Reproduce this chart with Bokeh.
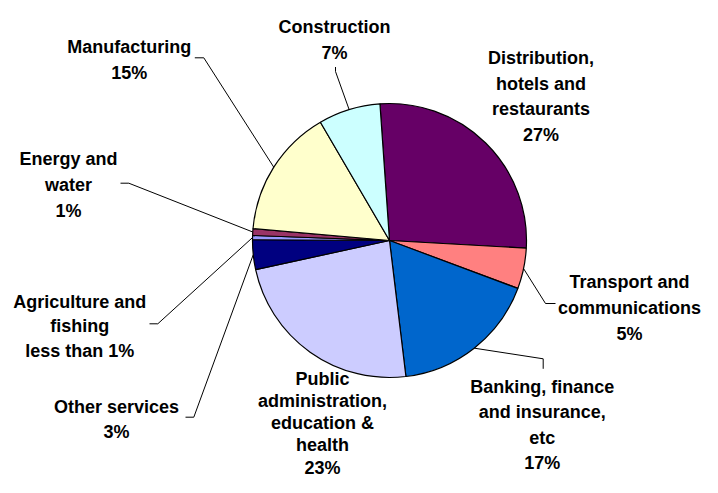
import math
from bokeh.plotting import figure
from bokeh.models import Range1d, ColumnDataSource
from bokeh.core.properties import value
from bokeh.embed import file_html
from bokeh.resources import INLINE

# ---------------- data (clockwise from the top of the pie) ----------------
sectors = [
    "Distribution, hotels and restaurants",
    "Transport and communications",
    "Banking, finance and insurance, etc",
    "Public administration, education & health",
    "Other services",
    "Agriculture and fishing",
    "Energy and water",
    "Manufacturing",
    "Construction",
]
shares = [27.0, 4.8, 17.4, 23.5, 3.5, 0.5, 0.8, 15.2, 7.3]
pct_labels = ["27%", "5%", "17%", "23%", "3%", "less than 1%", "1%", "15%", "7%"]
label_lines = [
    ["Distribution,", "hotels and", "restaurants"],
    ["Transport and", "communications"],
    ["Banking, finance", "and insurance,", "etc"],
    ["Public", "administration,", "education &", "health"],
    ["Other services"],
    ["Agriculture and", "fishing"],
    ["Energy and", "water"],
    ["Manufacturing"],
    ["Construction"],
]
colors = ["#660066", "#FF8080", "#0066CC", "#CCCCFF", "#000080",
          "#9999FF", "#993366", "#FFFFCC", "#CCFFFF"]

# ---------------- layout (picture pixel coordinates, y down) ----------------
W, H = 702, 477
CX, CY, R = 389.0, 240.0, 137.0
START_DEG = -4.0  # clockwise from 12 o'clock
TEXT_DY = -5.5    # renderer draws the alphabetic baseline a little lower

# label centre x, first baseline y, line spacing
label_pos = [
    (540.5, 63.0, 25.7),
    (629.0, 287.0, 25.8),
    (541.7, 392.0, 25.4),
    (322.0, 383.5, 22.3),
    (116.0, 411.5, 25.0),
    (79.2, 306.5, 24.6),
    (68.0, 164.0, 26.0),
    (128.7, 51.7, 26.6),
    (334.0, 31.7, 26.0),
]
# leader line: two points near the label, then the pie edge at the slice middle
leaders = [
    None,
    [(555.0, 303.0), (545.0, 303.0)],
    [(542.7, 368.3), (542.7, 358.3)],
    None,
    [(185.0, 416.7), (193.3, 416.7)],
    [(149.0, 323.3), (157.3, 323.3)],
    [(120.0, 182.7), (128.3, 182.7)],
    [(194.3, 57.3), (203.3, 57.3)],
    [(335.0, 66.5), (335.0, 71.0)],
]


def fy(y):
    return H - y


p = figure(width=W, height=H, x_range=Range1d(0, W), y_range=Range1d(0, H),
           output_backend="svg", toolbar_location=None, x_axis_type=None, y_axis_type=None,
           min_border=0)
p.outline_line_color = None
p.background_fill_color = "white"
p.border_fill_color = "white"
p.grid.visible = False

total = sum(shares)
starts, ends, mids = [], [], []
cum = 0.0
for s in shares:
    t1 = START_DEG + 360.0 * cum / total
    cum += s
    t2 = START_DEG + 360.0 * cum / total
    starts.append(math.radians(90.0 - t2))
    ends.append(math.radians(90.0 - t1))
    mids.append((t1 + t2) / 2.0)

src = ColumnDataSource(dict(start=starts, end=ends, color=colors, sector=sectors, share=shares))
p.wedge(x=CX, y=fy(CY), radius=R, start_angle="start", end_angle="end",
        fill_color="color", line_color="black", line_width=1.2, source=src)

# leader lines
lx, ly = [], []
for i, ld in enumerate(leaders):
    if ld is None:
        continue
    th = math.radians(mids[i])
    ex = CX + R * math.sin(th)
    ey = CY - R * math.cos(th)
    pts = ld + [(ex, ey)]
    lx.append([q[0] for q in pts])
    ly.append([fy(q[1]) for q in pts])
p.multi_line(xs=lx, ys=ly, line_color="black", line_width=1)

# labels
tx, ty, tt = [], [], []
for i in range(len(sectors)):
    lines = label_lines[i] + [pct_labels[i]]
    x0, b0, sp = label_pos[i]
    for k, line in enumerate(lines):
        tx.append(x0)
        ty.append(fy(b0 + k * sp + TEXT_DY))
        tt.append(line)
p.text(x=tx, y=ty, text=tt, text_font=value("Liberation Sans"), text_font_style="bold",
       text_font_size="18px", text_align="center", text_baseline="alphabetic", text_color="black")

open("out.html", "w").write(file_html(p, INLINE))
